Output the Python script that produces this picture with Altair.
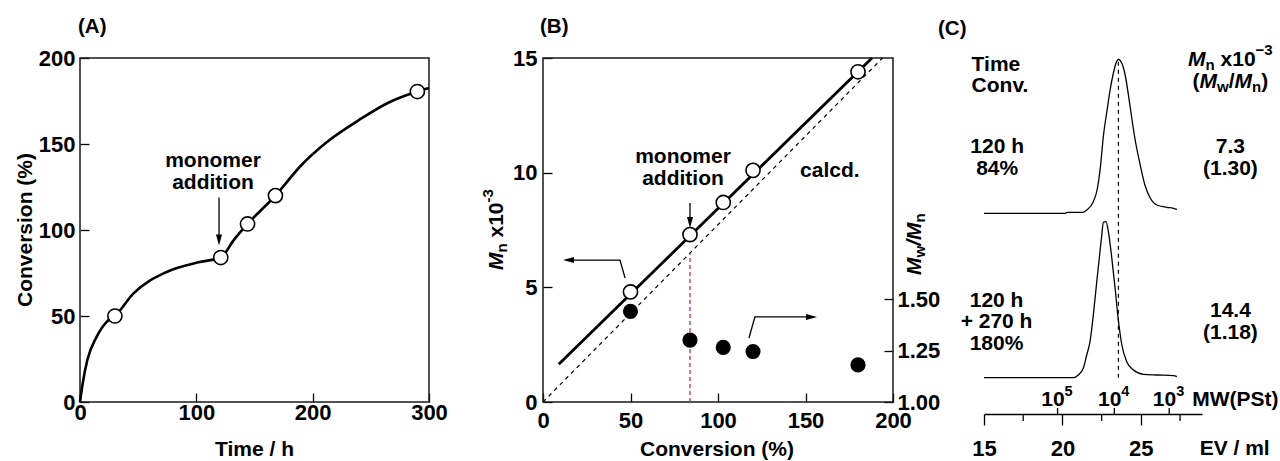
import altair as alt
import pandas as pd

FONT = "Liberation Sans"
FS = 21     # annotation text size
LS = 22     # tick label size

# ---------------- (A) conversion vs time ----------------
a_time = [30, 121, 144, 168, 290]
a_conv = [50, 84, 103.5, 120, 180.5]
a_curve_time = [0, 2.3, 6.3, 14.3, 22.9, 30, 45.8, 74.5, 103, 121, 132, 144, 168, 190, 212, 240, 265, 290, 300]
a_curve_conv = [0, 10.8, 24.4, 37.9, 46.6, 50, 63, 75.6, 81.4, 84, 94, 103.5, 120, 137.5, 151, 164, 174, 180.5, 182.5]
a_x_ticks = [0, 100, 200, 300]
a_y_ticks = [0, 50, 100, 150, 200]

# ---------------- (B) Mn and Mw/Mn vs conversion ----------------
b_conv = [50, 84, 103, 120, 180]
b_mn = [4.8, 7.3, 8.7, 10.1, 14.4]
b_pdi = [1.44, 1.30, 1.265, 1.245, 1.18]
b_fit_conv = [9, 188]
b_fit_mn = [1.65, 15.0]
b_calc_conv = [0, 194]
b_calc_mn = [0, 15.0]
b_x_ticks = [0, 50, 100, 150, 200]
b_y_ticks = [0, 5, 10, 15]
b_pdi_ticks = [1.00, 1.25, 1.50]

# ---------------- (C) SEC traces ----------------
c_upper_ev = [15.0, 20.2, 20.3, 21.3, 21.55, 21.97, 22.21, 22.40, 22.62, 22.85, 23.04, 23.25, 23.42, 23.57,
              23.79, 24.0, 24.21, 24.42, 24.64, 24.96, 25.28, 25.6, 26.02, 26.66, 27.08, 27.3]
c_upper_sig = [0, 0, 1, 1, 3.3, 11.6, 23.3, 43.3, 78.3, 103.3, 123.3, 140.3, 150.3, 154,
               150, 138.3, 118.3, 95.3, 73.3, 48.3, 27.3, 15.3, 8.3, 6, 5, 4]
c_lower_ev = [15.0, 20.69, 21.01, 21.33, 21.55, 21.76, 21.97, 22.19, 22.35, 22.51, 22.61, 22.78, 22.93,
              23.15, 23.36, 23.53, 23.79, 24.1, 24.53, 25.17, 26.02, 27.08, 27.3]
c_lower_sig = [0, 0, 2.7, 9.4, 22.7, 36, 62.7, 96, 119.4, 142.7, 155.4, 156, 146,
               119.4, 89.4, 62.7, 32.7, 16, 7.7, 3.4, 2.7, 2, 1]
c_upper_base = 200.7
c_lower_base = 36.3
c_ev_major = [15, 20, 25]
c_ev_minor = [17.5, 22.5, 27.5]
c_mw_ev = [19.69, 23.31, 26.81]
c_mw_exp = ["5", "4", "3"]
c_ref_ev = 23.57

# ---------------- helpers ----------------
MET = {' ': 278, '(': 333, ')': 333, '/': 278, '-': 333, '\u2212': 584, '.': 278, '%': 889, '+': 584,
       'x': 556, 'n': 611, 'w': 778, 'M': 833, 'W': 944, 'C': 722, 'P': 667, 'S': 667, 't': 333}
for d in "0123456789":
    MET[d] = 556


def tw(s, size):
    return sum(MET.get(ch, 556) for ch in s) / 1000.0 * size


ONE = pd.DataFrame({"k": [0]})


def sc(domain, rng=None):
    kw = dict(domain=domain, nice=False, zero=False)
    if rng is not None:
        kw["range"] = rng
    return alt.Scale(**kw)


def T(xe, ye, text, size=FS, align="center", angle=None, italic=False, dx=0, dy=0, df=None):
    kw = dict(text=text, font=FONT, fontSize=size, fontWeight="bold", align=align,
              baseline="alphabetic", color="black")
    if italic:
        kw["fontStyle"] = "italic"
    if angle is not None:
        kw["angle"] = angle
    if dx:
        kw["dx"] = dx
    if dy:
        kw["dy"] = dy
    return alt.Chart(ONE if df is None else df).mark_text(**kw).encode(x=xe, y=ye)


def composite(xe, ye, segments, angle=None, align="left", start=0.0, df=None):
    total = sum(tw(t, s) for t, s, _, _ in segments)
    dx = start - (total / 2 if align == "center" else 0)
    out = []
    for t, s, ital, dy in segments:
        stripped = t.lstrip(" ")
        dx += tw(t[: len(t) - len(stripped)], s)
        out.append(T(xe, ye, stripped, size=s, align="left", angle=angle, italic=ital, dx=dx, dy=dy, df=df))
        dx += tw(stripped, s)
    return out


def head(shape):
    return dict(shape=shape, filled=True, color="black", size=121, opacity=1)


H_DOWN = "M0,0L-0.55,-2L0.55,-2Z"
H_LEFT = "M0,0L2,-0.55L2,0.55Z"
H_RIGHT = "M0,0L-2,-0.55L-2,0.55Z"

H = 344

# ================= Panel A =================
SAX = sc([0, 300], [0, 349])
SAY = sc([0, 200])
AXA_X = alt.Axis(values=a_x_ticks, title=None, offset=-9, tickSize=9, domain=False, labelPadding=0,
                 labelFlush=False, labelOverlap=False, grid=False)
AXA_Y = alt.Axis(values=a_y_ticks, title=None, offset=-9, tickSize=9, domain=False, labelPadding=5,
                 labelOverlap=False, grid=False)


def AX(f="x"):
    return alt.X(f"{f}:Q", scale=SAX, axis=AXA_X)


def AY(f="y"):
    return alt.Y(f"{f}:Q", scale=SAY, axis=AXA_Y)


anchor = alt.Chart(ONE).mark_rule(strokeOpacity=0).encode(
    x=alt.value(-80), x2=alt.value(-80), y=alt.value(-58), y2=alt.value(-58))

frameA = alt.Chart(pd.DataFrame({"x": [0], "x2": [300], "y": [0], "y2": [200]})).mark_rect(
    fillOpacity=0, stroke="#1a1a1a", strokeWidth=1.5).encode(x=AX(), x2="x2:Q", y=AY(), y2="y2:Q")

curveA = alt.Chart(pd.DataFrame({"x": a_curve_time, "y": a_curve_conv})).mark_line(
    color="black", strokeWidth=2.6, interpolate="monotone").encode(x=AX(), y=AY())

ptsA = alt.Chart(pd.DataFrame({"x": a_time, "y": a_conv})).mark_circle(
    fill="white", stroke="black", strokeWidth=1.6, size=200, opacity=1).encode(x=AX(), y=AY())

arrowA = alt.Chart(pd.DataFrame({"x": [119.5, 119.5], "y": [118.9, 94]})).mark_line(
    color="black", strokeWidth=1.3).encode(x=AX(), y=AY())
arrowAh = alt.Chart(pd.DataFrame({"x": [119.5], "y": [91]})).mark_point(**head(H_DOWN)).encode(x=AX(), y=AY())

txtA = [
    T(AX(), AY(), "monomer", df=pd.DataFrame({"x": [114.3], "y": [136.4]})),
    T(AX(), AY(), "addition", df=pd.DataFrame({"x": [114.3], "y": [123.9]})),
    T(alt.value(-48), alt.value(172), "Conversion (%)", angle=270),
    T(alt.value(174.5), alt.value(398), "Time / h"),
    T(alt.value(-2), alt.value(-25), "(A)", size=20.5, align="left"),
]

panelA = alt.layer(anchor, frameA, curveA, arrowA, arrowAh, ptsA, *txtA).properties(width=372, height=H)

# ================= Panel B =================
SBX = sc([0, 200])
SBY = sc([0, 15])
SBP = sc([1.0, 1.0 + 344 / 206.0])
AXB_X = alt.Axis(values=b_x_ticks, title=None, offset=-9, tickSize=9, domain=False, labelPadding=8,
                 labelFlush=False, labelOverlap=False, grid=False)
AXB_Y = alt.Axis(values=b_y_ticks, title=None, offset=-9, tickSize=9, domain=False, labelPadding=6,
                 labelOverlap=False, grid=False)


def BX(f="x"):
    return alt.X(f"{f}:Q", scale=SBX, axis=AXB_X)


def BY(f="y"):
    return alt.Y(f"{f}:Q", scale=SBY, axis=AXB_Y)


frameB = alt.Chart(pd.DataFrame({"x": [0], "x2": [200], "y": [0], "y2": [15]})).mark_rect(
    fillOpacity=0, stroke="#1a1a1a", strokeWidth=1.5).encode(x=BX(), x2="x2:Q", y=BY(), y2="y2:Q")

calcB = alt.Chart(pd.DataFrame({"x": b_calc_conv, "y": b_calc_mn})).mark_line(
    color="black", strokeWidth=1.2, strokeDash=[4, 4]).encode(x=BX(), y=BY())
magB = alt.Chart(pd.DataFrame({"x": [84, 84], "y": [0, 6.5]})).mark_line(
    color="#a0338c", strokeWidth=1.3, strokeDash=[4, 3]).encode(x=BX(), y=BY())
fitB = alt.Chart(pd.DataFrame({"x": b_fit_conv, "y": b_fit_mn})).mark_line(
    color="black", strokeWidth=2.8).encode(x=BX(), y=BY())
ptsB = alt.Chart(pd.DataFrame({"x": b_conv, "y": b_mn})).mark_circle(
    fill="white", stroke="black", strokeWidth=1.6, size=200, opacity=1).encode(x=BX(), y=BY())

arrB1 = alt.Chart(pd.DataFrame({"x": [84, 84], "y": [8.68, 7.9]})).mark_line(
    color="black", strokeWidth=1.3).encode(x=BX(), y=BY())
arrB1h = alt.Chart(pd.DataFrame({"x": [84], "y": [7.59]})).mark_point(**head(H_DOWN)).encode(x=BX(), y=BY())
arrB2 = alt.Chart(pd.DataFrame({"x": [46.9, 44, 14], "y": [5.4, 6.19, 6.19], "o": [0, 1, 2]})).mark_line(
    color="black", strokeWidth=1.3).encode(x=BX(), y=BY(), order="o:Q")
arrB2h = alt.Chart(pd.DataFrame({"x": [11.4], "y": [6.19]})).mark_point(**head(H_LEFT)).encode(x=BX(), y=BY())
arrB3 = alt.Chart(pd.DataFrame({"x": [117.7, 121.1, 154], "y": [2.79, 3.71, 3.71], "o": [0, 1, 2]})).mark_line(
    color="black", strokeWidth=1.3).encode(x=BX(), y=BY(), order="o:Q")
arrB3h = alt.Chart(pd.DataFrame({"x": [156.6], "y": [3.71]})).mark_point(**head(H_RIGHT)).encode(x=BX(), y=BY())

txtB = [
    T(BX(), BY(), "monomer", df=pd.DataFrame({"x": [80], "y": [10.41]})),
    T(BX(), BY(), "addition", df=pd.DataFrame({"x": [80], "y": [9.46]})),
    T(BX(), BY(), "calcd.", align="left", df=pd.DataFrame({"x": [146.9], "y": [9.83]})),
    T(alt.value(174), alt.value(398), "Conversion (%)"),
    T(alt.value(-3), alt.value(-25), "(B)", size=20.5, align="left"),
]
txtB += composite(alt.value(-40), alt.value(212),
                  [("M", FS, True, 0), ("n", 15, False, 4), (" x10", FS, False, 0), ("-3", 15, False, -10)],
                  angle=270)
txtB += composite(alt.value(378), alt.value(217),
                  [("M", FS, True, 0), ("w", 15, False, 4), ("/", FS, True, 0), ("M", FS, True, 0),
                   ("n", 15, False, 4)], angle=270)

mnLayer = alt.layer(frameB, calcB, magB, fitB, arrB1, arrB1h, arrB2, arrB2h, arrB3, arrB3h, ptsB, *txtB)

pdiLayer = alt.Chart(pd.DataFrame({"x": b_conv, "p": b_pdi})).mark_circle(
    color="black", size=230, opacity=1).encode(
    x=BX(),
    y=alt.Y("p:Q", scale=SBP, axis=alt.Axis(orient="right", values=b_pdi_ticks, format=".2f", title=None,
                                             offset=-9, tickSize=9, domain=False, labelPadding=4,
                                             labelOverlap=False, grid=False)))

panelB = alt.layer(mnLayer, pdiLayer).resolve_scale(y="independent").properties(width=350, height=H)

# ================= Panel C =================
HC = 356
SCX = sc([15, 28.9])
SCY = sc([0, HC])
AXC_X = alt.Axis(values=c_ev_major, title=None, tickSize=11, tickWidth=1.3, domain=True, domainWidth=1.3,
                 labelPadding=13, labelFlush=False, labelOverlap=False, grid=False)


def CX(f="x"):
    return alt.X(f"{f}:Q", scale=SCX, axis=AXC_X)


def CY(f="y"):
    return alt.Y(f"{f}:Q", scale=SCY, axis=None)


upper = alt.Chart(pd.DataFrame({"x": c_upper_ev, "y": [c_upper_base + v for v in c_upper_sig]})).mark_line(
    color="black", strokeWidth=1.3, interpolate="monotone").encode(x=CX(), y=CY())
lower = alt.Chart(pd.DataFrame({"x": c_lower_ev, "y": [c_lower_base + v for v in c_lower_sig]})).mark_line(
    color="black", strokeWidth=1.3, interpolate="monotone").encode(x=CX(), y=CY())
refC = alt.Chart(pd.DataFrame({"x": [c_ref_ev, c_ref_ev], "y": [c_lower_base, 354]})).mark_line(
    color="black", strokeWidth=1.2, strokeDash=[4, 4]).encode(x=CX(), y=CY())
minorC = alt.Chart(pd.DataFrame({"x": c_ev_minor, "y": [0] * 3, "y2": [-7] * 3})).mark_rule(
    color="black", strokeWidth=1.3).encode(x=CX(), y=CY(), y2="y2:Q")
mwC = alt.Chart(pd.DataFrame({"x": c_mw_ev, "y": [0] * 3, "y2": [6] * 3})).mark_rule(
    color="black", strokeWidth=1.3).encode(x=CX(), y=CY(), y2="y2:Q")


def cdf(x, y):
    return pd.DataFrame({"x": [x], "y": [y]})


txtC = [
    T(alt.value(-46), alt.value(-23), "(C)", size=20.5, align="left"),
    T(CX(), CY(), "Time", align="left", df=cdf(14.21, 343)),
    T(CX(), CY(), "Conv.", align="left", df=cdf(14.21, 322)),
    T(CX(), CY(), "120 h", df=cdf(15.84, 261)),
    T(CX(), CY(), "84%", df=cdf(15.84, 239)),
    T(CX(), CY(), "120 h", df=cdf(15.8, 107)),
    T(CX(), CY(), "+ 270 h", df=cdf(15.8, 86)),
    T(CX(), CY(), "180%", df=cdf(15.8, 64)),
    T(CX(), CY(), "7.3", df=cdf(30.71, 261)),
    T(CX(), CY(), "(1.30)", df=cdf(30.71, 239)),
    T(CX(), CY(), "14.4", df=cdf(30.71, 97)),
    T(CX(), CY(), "(1.18)", df=cdf(30.71, 75)),
    T(CX(), CY(), "MW(PSt)", align="left", df=cdf(28.28, 8)),
    T(CX(), CY(), "EV / ml", align="left", df=cdf(28.75, -41)),
]
txtC += composite(CX(), CY(), [("M", FS, True, 0), ("n", 15, False, 4), (" x10", FS, False, 0),
                               ("\u22123", 15, False, -11)], align="center", df=cdf(30.71, 348))
txtC += composite(CX(), CY(), [("(", FS, False, 0), ("M", FS, True, 0), ("w", 15, False, 4), ("/", FS, False, 0),
                               ("M", FS, True, 0), ("n", 15, False, 4), (")", FS, False, 0)],
                  align="center", df=cdf(30.71, 326))
for ev, ex in zip(c_mw_ev, c_mw_exp):
    txtC += composite(CX(), CY(), [("10", 21, False, 0), (ex, 14.5, False, -10)],
                      start=7 - tw("10", 21), df=cdf(ev, 8))

panelC = alt.layer(lower, upper, refC, minorC, mwC, *txtC).properties(width=218, height=HC)

chart = alt.hconcat(panelA, panelB, panelC, spacing=91, bounds="flush").properties(
    padding=0
).configure_view(strokeWidth=0).configure_axis(
    labelFont=FONT, labelFontSize=LS, labelFontWeight="bold", labelColor="black",
    tickColor="black", tickWidth=1.3, domainColor="black", grid=False)

chart.save("out.html", embed_options={"renderer": "svg", "actions": False})
